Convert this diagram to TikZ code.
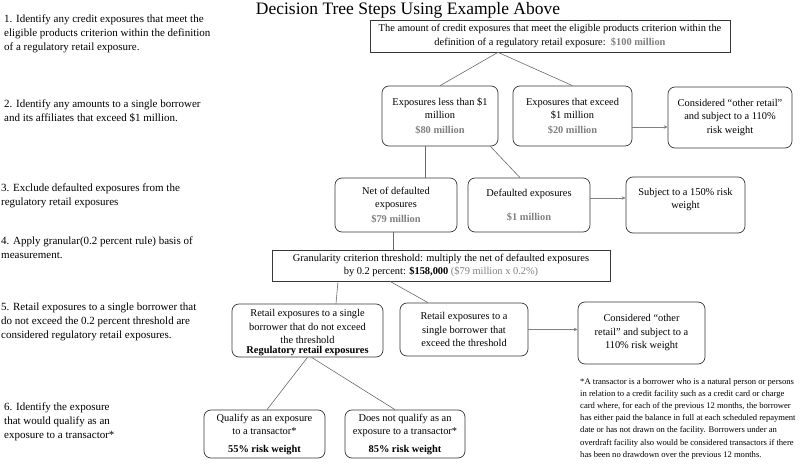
\documentclass[tikz,border=0pt]{standalone}
\usepackage{fontspec}
\setmainfont{Liberation Serif}
\usepackage{tikz}
\usetikzlibrary{arrows.meta}
\usepackage{color}

\definecolor{amtgray}{RGB}{128,128,128}
\definecolor{boxedge}{RGB}{55,55,55}
\definecolor{linkgray}{RGB}{105,105,105}
\newcommand{\amount}[1]{{\color{amtgray}\bfseries #1}}

\tikzset{
    box/.style={draw=boxedge, line width=0.7pt, rounded corners=7pt, align=center,
        font=\fontsize{10.4}{13.5}\selectfont, inner sep=1pt},
    sbox/.style={box, rounded corners=0pt},
    stepnote/.style={anchor=north west, align=left, inner sep=0pt,
        font=\fontsize{11}{14}\selectfont},
    link/.style={draw=linkgray, line width=0.6pt},
    flow/.style={draw=amtgray, line width=0.6pt, -{Stealth[amtgray, length=4pt, width=3.5pt]}}
}

\begin{document}
\begin{tikzpicture}[x=1pt, y=-1pt]
        \useasboundingbox (0,0) rectangle (800,465);

        \node[font=\fontsize{17.5}{20}\selectfont, inner sep=0pt] (title) at (408,10) {Decision Tree Steps Using Example Above};

        % steps on the left
        \node[stepnote] (S1) at (4,15) {1. Identify any credit exposures that meet the\\ eligible products criterion within the definition\\ of a regulatory retail exposure.};
        \node[stepnote] (S2) at (4,100) {2. Identify any amounts to a single borrower\\ and its affiliates that exceed \$1 million.};
        \node[stepnote] (S3) at (1,184) {3. Exclude defaulted exposures from the\\ regulatory retail exposures};
        \node[stepnote] (S4) at (1,237) {4. Apply granular(0.2 percent rule) basis of\\ measurement.};
        \node[stepnote] (S5) at (1,303) {5. Retail exposures to a single borrower that\\ do not exceed the 0.2 percent threshold are\\ considered regulatory retail exposures.};
        \node[stepnote] (S6) at (4,403) {6. Identify the exposure\\ that would qualify as an\\ exposure to a transactor*};

        % tree
        \node[sbox, minimum width=360, minimum height=32] (T) at (550,36) {The amount of credit exposures that meet the eligible products criterion within the\\ definition of a regulatory retail exposure:\ \ \amount{\$100 million}};
        \node[box, minimum width=116, minimum height=60] (A) at (440,116) {Exposures less than \$1\\ million\\[1pt] \amount{\$80 million}};
        \node[box, minimum width=119, minimum height=60] (B) at (572.5,116) {Exposures that exceed\\ \$1 million\\[1pt] \amount{\$20 million}};
        \node[box, minimum width=124, minimum height=61] (C) at (730,117.5) {Considered ``other retail''\\ and subject to a 110\%\\ risk weight};

        \node[box, minimum width=122, minimum height=54] (N) at (396,205) {Net of defaulted\\ exposures\\[1pt] \amount{\$79 million}};
        \node[box, minimum width=122, minimum height=54] (D) at (529,205) {Defaulted exposures\\[10pt] \amount{\$1 million}};
        \node[box, minimum width=119, minimum height=56] (E) at (685.5,205) {Subject to a 150\% risk\\ weight\\ \mbox{}};

        \node[sbox, minimum width=338, minimum height=31] (G) at (441,265.5) {Granularity criterion threshold: multiply the net of defaulted exposures\\ by 0.2 percent: \textbf{\$158,000} {\color{amtgray}(\$79 million x 0.2\%)}};

        \node[box, minimum width=151, minimum height=53] (L) at (307.5,330.5) {\mbox{}\\[-2pt] Retail exposures to a single\\ borrower that do not exceed\\ the threshold\\[-4pt] \textbf{Regulatory retail exposures}};
        \node[box, minimum width=128, minimum height=53] (R) at (464,329.5) {Retail exposures to a\\ single borrower that\\ exceed the threshold};
        \node[box, minimum width=127, minimum height=62] (O) at (641.5,333) {Considered ``other\\ retail'' and subject to a\\ 110\% risk weight};

        \node[box, minimum width=121, minimum height=48] (Q) at (264.5,434) {Qualify as an exposure\\ to a transactor*\\[4pt] \textbf{55\% risk weight}};
        \node[box, minimum width=120, minimum height=48] (U) at (405,434) {Does not qualify as an\\ exposure to a transactor*\\[4pt] \textbf{85\% risk weight}};

        \node[anchor=north west, align=left, inner sep=0pt, font=\fontsize{8.6}{12.2}\selectfont] (F) at (580,378) {*A transactor is a borrower who is a natural person or persons\\ in relation to a credit facility such as a credit card or charge\\ card where, for each of the previous 12 months, the borrower\\ has either paid the balance in full at each scheduled repayment\\ date or has not drawn on the facility. Borrowers under an\\ overdraft facility also would be considered transactors if there\\ has been no drawdown over the previous 12 months.};

        \draw[link] ([xshift=-52]T.south) -- (A.north);
        \draw[link] ([xshift=-52]T.south) -- (B.north);
        \draw[link] ([xshift=-15]A.south) -- ([xshift=-15]A.south |- N.north);
        \draw[link] ([xshift=-8]A.south east) -- ([xshift=-9]D.north);
        \draw[link] ([xshift=-3]N.south) -- ([xshift=-3]N.south |- G.north);
        \draw[link] ([xshift=-103]G.south) -- ([xshift=28.5]L.north);
        \draw[link] ([xshift=-51]G.south) -- ([xshift=-36]R.north);
        \draw[link] (L.south) -- ([xshift=2.5]Q.north);
        \draw[link] ([xshift=4]L.south) -- ([xshift=-10]U.north);

        \draw[flow] ([yshift=-11]B.east) -- ([yshift=-11]B.east -| C.west);
        \draw[flow] ([yshift=7]D.east) -- ([yshift=7]D.east -| E.west);
        \draw[flow] (R.east) -- (R.east -| O.west);
    \end{tikzpicture}
\end{document}
